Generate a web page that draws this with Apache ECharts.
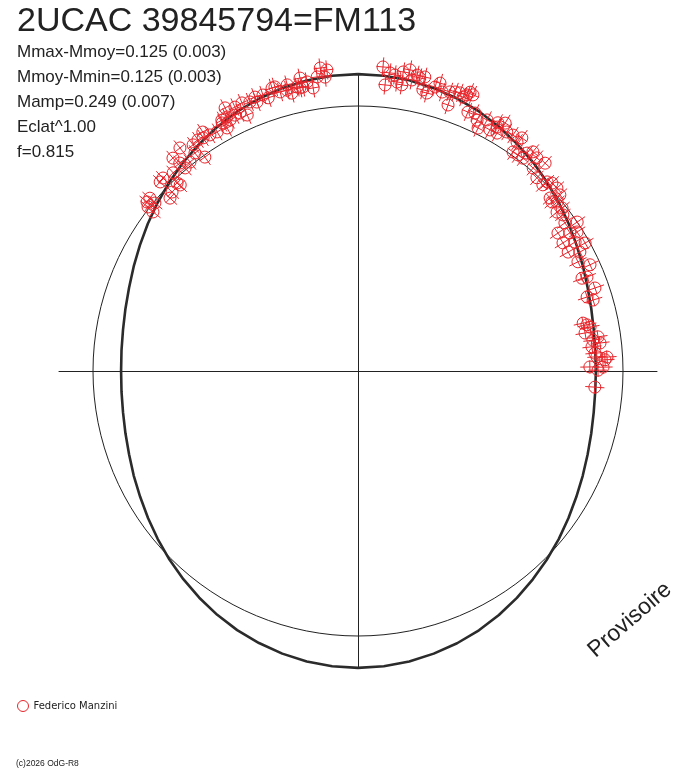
<!DOCTYPE html>
<html>
<head>
<meta charset="utf-8">
<script src="https://cdn.jsdelivr.net/npm/echarts@6/dist/echarts.min.js"></script>
<style>
  html, body { margin: 0; padding: 0; background: #fff; }
  #chart { width: 688px; height: 768px; }
</style>
</head>
<body>
<div id="chart"></div>
<script>
// measurements: phase in degrees (0 = top, clockwise), dm = magnitude offset from mean (brighter = outward)
const phases = [
  309.7, 309.6, 308.0, 307.8, 312.6, 313.9, 313.7, 316.1, 316.3, 317.0,
  319.0, 319.4, 319.6, 321.2, 323.2, 324.4, 323.9, 325.3, 326.4, 327.9,
  329.5, 331.3, 331.7, 331.5, 333.0, 333.2, 335.0, 335.4, 336.6, 336.6,
  338.1, 339.4, 339.4, 341.0, 341.8, 343.1, 343.7, 344.4, 345.8, 346.6,
  347.9, 348.8, 350.0, 351.0, 349.0, 352.9, 354.1, 352.1, 353.6, 332.7,
  327.0, 334.3, 346.1, 321.4, 314.7, 308.7, 348.4,
  4.7, 5.4, 7.1, 8.7, 7.7, 9.8, 10.5, 11.9, 12.8, 13.0,
  13.9, 15.2, 15.9, 16.8, 18.2, 18.7, 19.2, 20.1, 21.5, 22.6,
  23.0, 24.4, 25.4, 26.3, 27.2, 28.7, 30.3, 29.4, 30.7, 31.9,
  33.3, 34.8, 35.1, 35.3, 36.5, 37.8, 38.6, 40.0, 42.0, 40.8,
  42.8, 45.0, 45.9, 47.4, 48.0, 49.7, 51.4, 51.4, 52.7, 48.9,
  6.1, 11.3, 8.6, 21.0, 21.9, 29.7, 37.8, 44.8, 48.9,
  54.4, 55.8, 55.4, 56.9, 58.0, 59.3, 60.5, 61.8, 63.6, 65.4,
  67.5, 70.7, 72.1, 73.2, 78.0, 79.3, 80.5, 81.9, 84.1, 83.4,
  85.7, 87.4, 86.6, 89.0, 89.8, 93.9, 86.8, 78.6,
  67.7, 82.5, 89.1, 57.6, 60.6
];
const dms = [
  0.023, -0.006, 0.006, -0.023, -0.040, -0.029, 0.036, -0.017, -0.032, 0.025,
  0.071, 0.037, 0.007, 0.013, 0.030, -0.008, 0.062, 0.067, 0.062, 0.057,
  0.052, 0.074, 0.046, 0.085, 0.070, 0.124, 0.109, 0.078, 0.058, 0.113,
  0.104, 0.115, 0.093, 0.112, 0.094, 0.128, 0.129, 0.103, 0.103, 0.086,
  0.106, 0.140, 0.119, 0.090, 0.101, 0.168, 0.157, 0.133, 0.128, 0.087,
  0.083, 0.079, 0.124, 0.085, 0.039, 0.022, 0.100,
  0.167, 0.093, 0.139, 0.102, 0.111, 0.169, 0.129, 0.144, 0.152, 0.098,
  0.089, 0.122, 0.143, 0.110, 0.120, 0.066, 0.127, 0.130, 0.132, 0.142,
  0.068, 0.076, 0.053, 0.025, 0.072, 0.041, 0.044, 0.083, 0.097, 0.069,
  0.072, 0.057, 0.083, 0.014, 0.016, 0.045, 0.064, 0.055, 0.061, 0.013,
  -0.007, 0.010, 0.021, 0.022, -0.027, -0.016, -0.016, -0.043, -0.031, -0.032,
  0.145, 0.153, 0.156, 0.118, 0.148, 0.066, 0.018, -0.011, 0.012,
  -0.044, 0.000, -0.092, -0.050, -0.097, -0.052, -0.098, -0.055, -0.081, -0.041,
  -0.094, -0.058, -0.101, -0.081, -0.145, -0.120, -0.145, -0.094, -0.124, -0.089,
  -0.114, -0.074, -0.107, -0.138, -0.104, -0.115, -0.065, -0.131,
  -0.073, -0.117, -0.083, -0.023, -0.018
];
const magErr = 0.04;

// fitted light curve, read every 5 degrees of phase
const curvePhases = [
  0, 5, 10, 15, 20, 25, 30, 35, 40, 45, 50, 55, 60, 65, 70, 75, 80, 85,
  90, 95, 100, 105, 110, 115, 120, 125, 130, 135, 140, 145, 150, 155, 160, 165, 170, 175,
  180, 185, 190, 195, 200, 205, 210, 215, 220, 225, 230, 235, 240, 245, 250, 255, 260, 265,
  270, 275, 280, 285, 290, 295, 300, 305, 310, 315, 320, 325, 330, 335, 340, 345, 350, 355, 360
];
const curveDms = [
  0.133, 0.131, 0.126, 0.116, 0.104, 0.089, 0.071, 0.051, 0.031, 0.009, -0.012, -0.033, -0.053, -0.070, -0.086, -0.098, -0.107, -0.112,
  -0.113, -0.112, -0.107, -0.098, -0.086, -0.071, -0.054, -0.034, -0.013, 0.008, 0.029, 0.050, 0.070, 0.088, 0.103, 0.115, 0.125, 0.131,
  0.133, 0.131, 0.125, 0.115, 0.102, 0.087, 0.069, 0.049, 0.028, 0.007, -0.015, -0.036, -0.056, -0.073, -0.089, -0.101, -0.110, -0.115,
  -0.117, -0.115, -0.110, -0.101, -0.089, -0.073, -0.055, -0.035, -0.014, 0.008, 0.030, 0.050, 0.070, 0.088, 0.103, 0.116, 0.125, 0.131, 0.133
];

const titleText = '2UCAC 39845794=FM113';
const infoLines = ['Mmax-Mmoy=0.125 (0.003)', 'Mmoy-Mmin=0.125 (0.003)', 'Mamp=0.249 (0.007)', 'Eclat^1.00', 'f=0.815'];
const observer = 'Federico Manzini';

const RED = '#e8252b';
const INK = '#222';
const CENTER = [358, 371];

const chart = echarts.init(document.getElementById('chart'));

function renderMarker(params, api) {
  const dm = api.value(0), ph = api.value(1);
  const c = api.coord([dm, ph]);
  const a = api.coord([dm + magErr, ph]);
  const b = api.coord([dm - magErr, ph]);
  const ux = a[0] - b[0], uy = a[1] - b[1];
  const len = Math.hypot(ux, uy) || 1;
  const tx = -uy / len * 6.5, ty = ux / len * 6.5;
  const st = { stroke: RED, lineWidth: 1, fill: null };
  return {
    type: 'group',
    children: [
      { type: 'circle', shape: { cx: c[0], cy: c[1], r: 6 }, style: st },
      { type: 'line', shape: { x1: a[0], y1: a[1], x2: b[0], y2: b[1] }, style: st },
      { type: 'line', shape: { x1: c[0] - tx, y1: c[1] - ty, x2: c[0] + tx, y2: c[1] + ty }, style: st }
    ]
  };
}

const hidden = { axisLine: { show: false }, axisTick: { show: false }, axisLabel: { show: false }, splitLine: { show: false } };

chart.setOption({
  backgroundColor: '#fff',
  animation: false,
  title: {
    text: titleText,
    subtext: infoLines.join('\n'),
    left: 12, top: 0, itemGap: 1,
    textStyle: { fontFamily: 'Liberation Sans', fontSize: 34, fontWeight: 'normal', color: INK },
    subtextStyle: { fontFamily: 'Liberation Sans', fontSize: 17, lineHeight: 25, color: INK }
  },
  legend: {
    left: 17, top: 700, padding: 0,
    itemWidth: 11, itemHeight: 11,
    icon: 'circle',
    itemStyle: { color: 'rgba(255,255,255,0)', borderColor: RED, borderWidth: 1 },
    textStyle: { fontFamily: 'DejaVu Sans', fontSize: 10, color: INK },
    data: [observer]
  },
  grid: { left: 59, right: 31, top: 74, bottom: 100 },
  xAxis: { type: 'value', min: -1, max: 1, axisLine: { onZero: true, lineStyle: { color: INK, width: 1 } },
    axisTick: { show: false }, axisLabel: { show: false }, splitLine: { show: false } },
  yAxis: { type: 'value', min: -1, max: 1, axisLine: { onZero: true, lineStyle: { color: INK, width: 1 } },
    axisTick: { show: false }, axisLabel: { show: false }, splitLine: { show: false } },
  polar: [
    { center: CENTER, radius: 325 },
    { center: CENTER, radius: 265 }
  ],
  angleAxis: [
    Object.assign({ polarIndex: 0, type: 'value', min: 0, max: 360, startAngle: 90, clockwise: true }, hidden),
    Object.assign({ polarIndex: 1, type: 'value', min: 0, max: 360, startAngle: 90, clockwise: true }, hidden,
      { axisLine: { show: true, lineStyle: { color: INK, width: 1 } } })
  ],
  radiusAxis: [
    Object.assign({ polarIndex: 0, type: 'value', min: -1.10417, max: 0.25 }, hidden),
    Object.assign({ polarIndex: 1, type: 'value', min: 0, max: 1 }, hidden)
  ],
  graphic: [
    { type: 'text', x: 630, y: 620, rotation: 41 * Math.PI / 180,
      style: { text: 'Provisoire', font: '23px "Liberation Sans"', fill: INK, align: 'center', verticalAlign: 'middle' } },
    { type: 'text', left: 16, top: 759,
      style: { text: '(c)2026 OdG-R8', font: '8.5px "Liberation Sans"', fill: INK } }
  ],
  series: [
    {
      type: 'line', coordinateSystem: 'polar', polarIndex: 0,
      data: curvePhases.map((p, i) => [curveDms[i], p]),
      showSymbol: false, silent: true,
      lineStyle: { color: '#2b2b2b', width: 2.6 },
      z: 2
    },
    {
      name: observer,
      type: 'custom', coordinateSystem: 'polar', polarIndex: 0,
      data: phases.map((p, i) => [dms[i], p]),
      renderItem: renderMarker,
      itemStyle: { color: RED },
      z: 3
    }
  ]
});
</script>
</body>
</html>
